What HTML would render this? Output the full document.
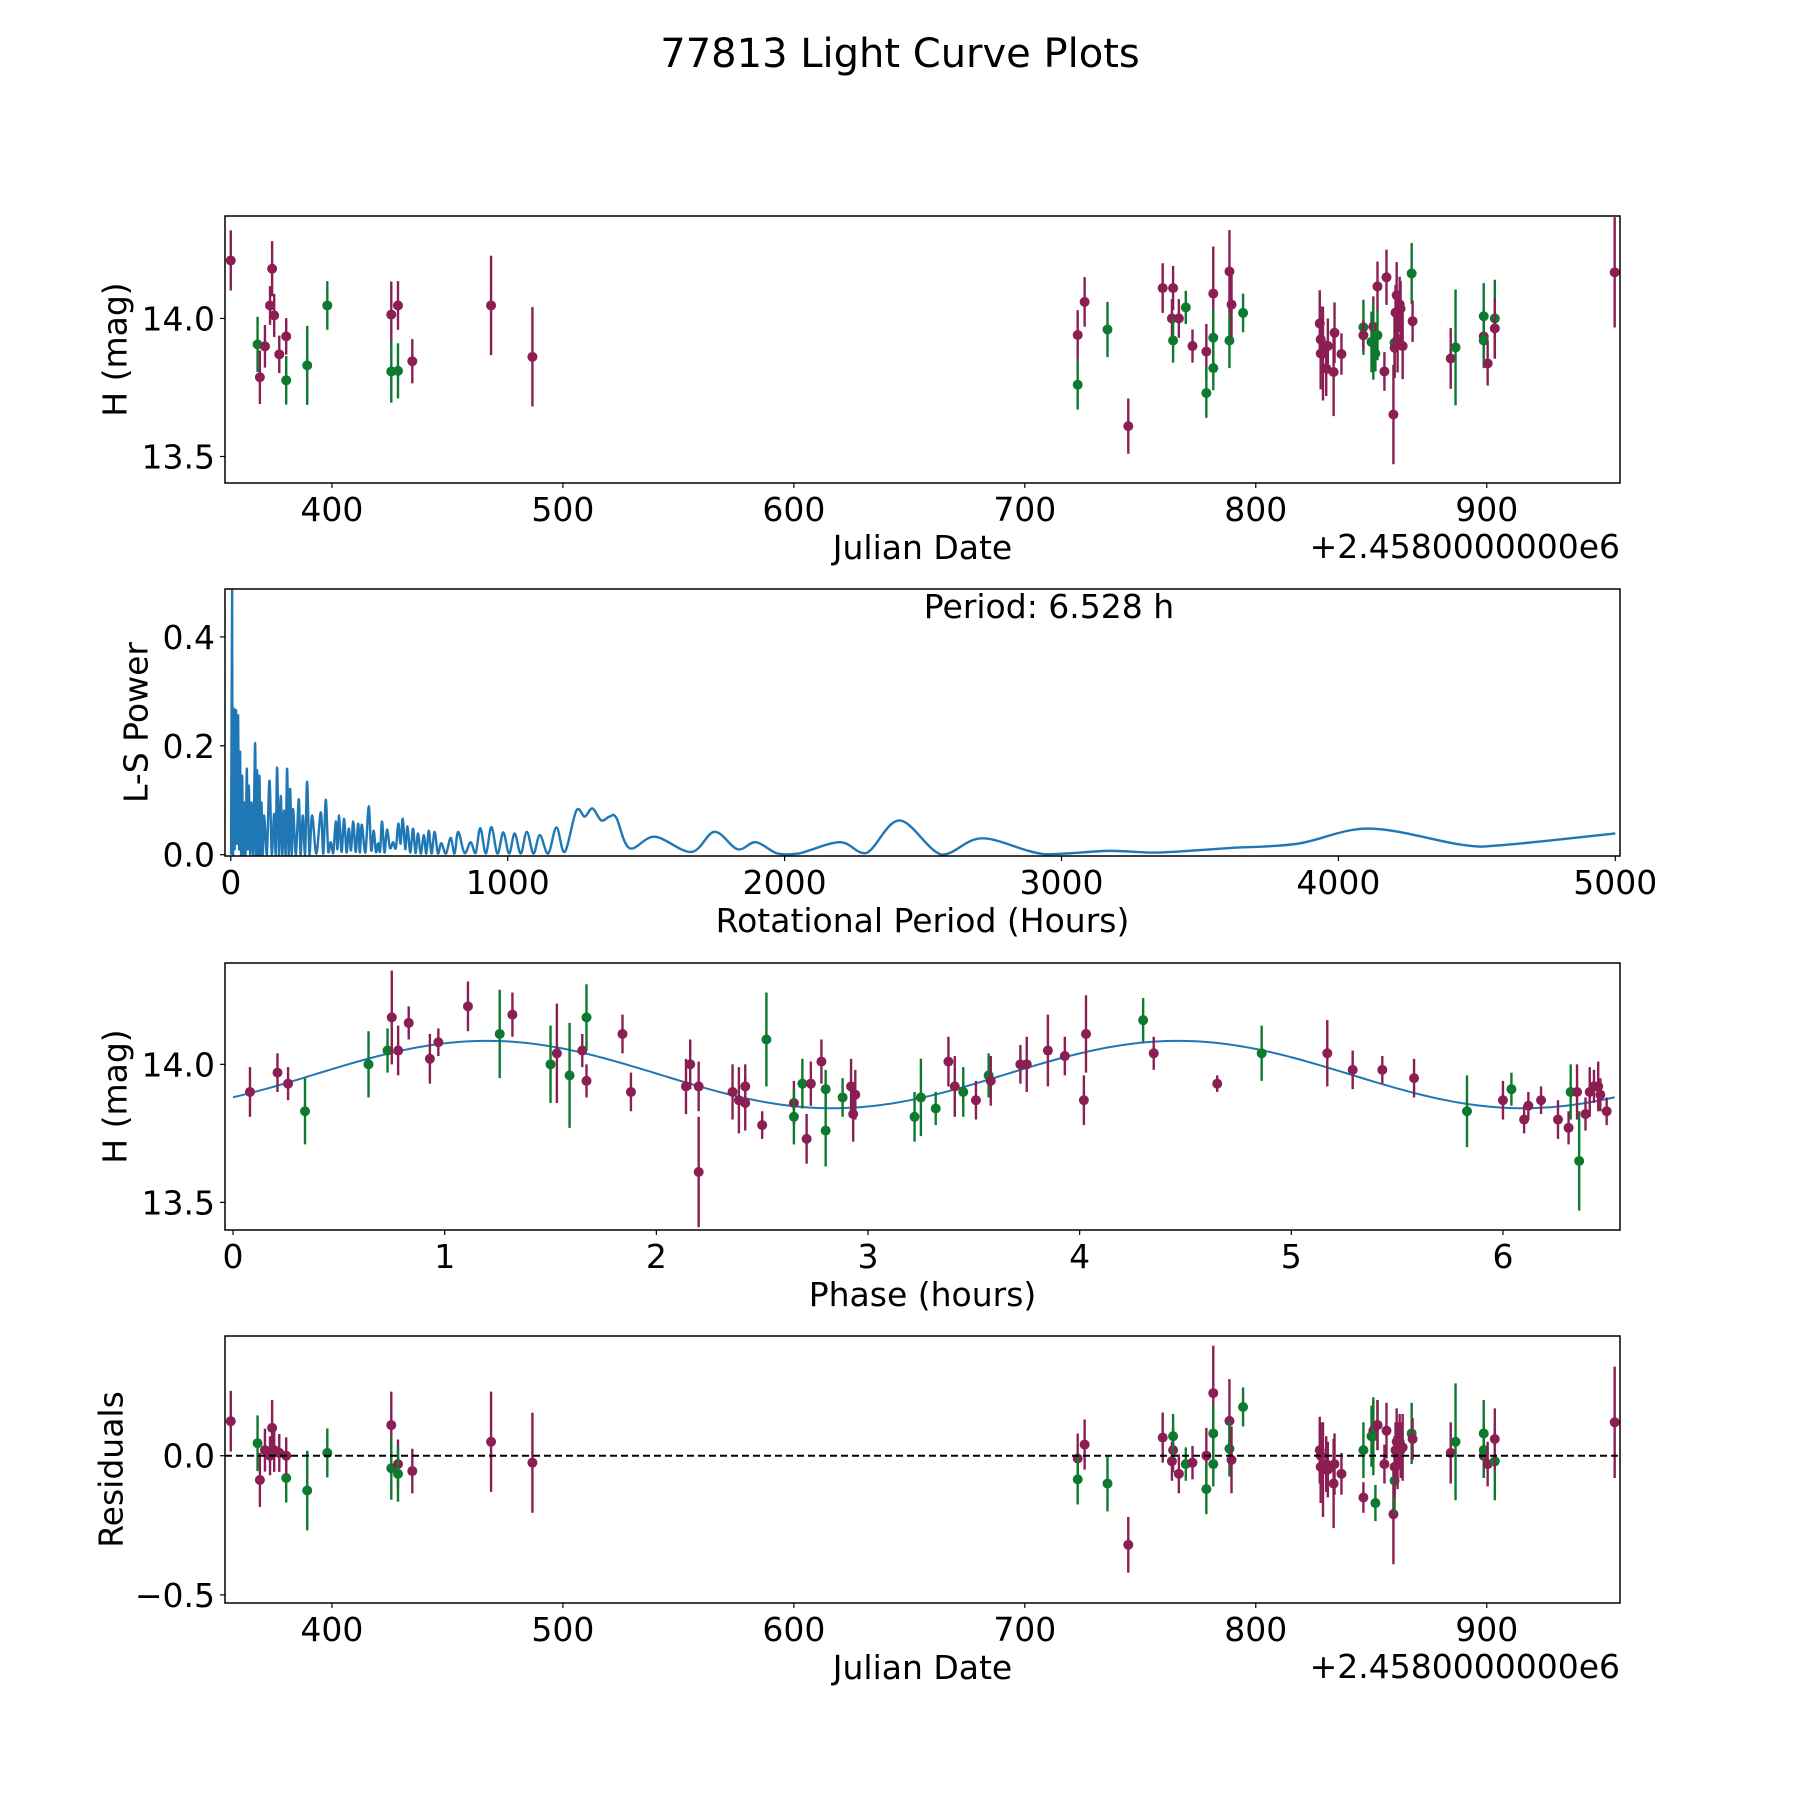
<!DOCTYPE html>
<html><head><meta charset="utf-8"><style>
html,body{margin:0;padding:0;background:#fff}
svg text{font-family:"DejaVu Sans","Liberation Sans",sans-serif;fill:#000}
</style></head><body>
<svg id="fig" width="1800" height="1800" viewBox="0 0 1800 1800" xmlns="http://www.w3.org/2000/svg">
<rect width="1800" height="1800" fill="#fff"/>
<text x="900" y="67" font-size="40" text-anchor="middle">77813 Light Curve Plots</text>
</svg>
<script>
// ---- Light curve data (JD - 2458000) ----
const jd = [356.2,367.8,368.8,371,373.2,374.1,375,377.2,380.2,380.2,389.3,398,425.7,425.7,428.6,428.6,434.8,468.9,486.8,
722.9,722.9,725.9,735.8,744.8,759.7,763.7,764.2,764.2,766.7,769.7,772.6,778.6,778.6,781.6,781.6,781.6,788.6,788.6,789.5,794.5,
827.7,828.1,828.1,829.1,830.5,831.2,833.7,834.1,837.1,846.6,846.6,850.1,850.9,850.9,852.7,851.8,852.7,855.7,856.6,859.6,860.1,860.1,860.5,861,861.4,862.3,862.7,863.6,867.5,867.9,884.4,886.5,898.7,898.7,898.7,900.4,903.5,903.5,955.4];
const mag = [14.21,13.906,13.787,13.899,14.047,14.18,14.011,13.87,13.776,13.935,13.83,14.047,14.014,13.808,14.047,13.81,13.845,14.047,13.861,
13.94,13.76,14.06,13.96,13.61,14.11,14.0,14.11,13.92,14.0,14.04,13.9,13.88,13.73,14.09,13.93,13.82,14.17,13.92,14.05,14.02,
13.982,13.924,13.873,13.873,13.819,13.9,13.806,13.948,13.871,13.968,13.939,13.915,13.97,13.918,13.939,13.873,14.116,13.808,14.149,13.652,13.912,13.894,14.021,14.084,13.924,14.051,14.035,13.9,14.163,13.99,13.855,13.895,14.008,13.935,13.92,13.837,14.0,13.964,14.167];
const magErr = [0.109,0.10,0.097,0.077,0.07,0.10,0.078,0.068,0.088,0.066,0.143,0.088,0.12,0.113,0.088,0.10,0.08,0.18,0.18,
0.09,0.09,0.09,0.1,0.1,0.09,0.07,0.08,0.08,0.07,0.06,0.06,0.1,0.09,0.17,0.1,0.08,0.15,0.1,0.12,0.07,
0.12,0.12,0.13,0.17,0.1,0.1,0.16,0.11,0.075,0.1,0.055,0.11,0.11,0.14,0.09,0.065,0.09,0.07,0.1,0.18,0.12,0.11,0.1,0.12,0.12,0.1,0.1,0.12,0.11,0.075,0.11,0.21,0.12,0.08,0.1,0.08,0.14,0.11,0.2];
const band = "mgmmmmmmgmggmgmgmmmmgmgmmmmgmgmmgmggmgmgmmmmmmmmmgmgmgggmmmmgmmmmmmmgmmggmgmgmm";
const resid = [0.124,0.045,-0.087,0.02,0.0,0.1,0.02,0.01,-0.08,0.0,-0.125,0.01,0.11,-0.045,-0.03,-0.065,-0.055,0.05,-0.025,
-0.01,-0.085,0.04,-0.1,-0.32,0.065,-0.02,0.02,0.07,-0.065,-0.03,-0.025,0.0,-0.12,0.225,0.08,-0.03,0.125,0.025,-0.015,0.175,
0.02,0.0,-0.04,-0.05,-0.03,-0.05,-0.1,-0.03,-0.065,0.02,-0.15,0.07,0.09,0.07,0.11,-0.17,0.11,-0.03,0.09,-0.21,-0.09,-0.04,0.02,0.05,0.0,0.05,0.02,0.03,0.08,0.06,0.01,0.05,0.08,0.0,0.02,-0.03,-0.02,0.06,0.12];

// ---- Phase-folded data ----
const phase = [0.08,0.21,0.26,0.34,0.64,0.73,0.75,0.78,0.83,0.93,0.97,1.11,1.26,1.32,1.5,1.53,1.59,1.65,1.67,1.67,1.84,1.88,2.14,2.16,2.2,2.2,2.36,2.39,2.42,2.42,2.5,2.52,2.65,2.65,2.69,2.71,2.73,2.78,2.8,2.8,2.88,2.92,2.93,2.94,3.22,3.25,3.32,3.38,3.41,3.45,3.51,3.57,3.58,3.72,3.75,3.85,3.93,4.02,4.03,4.3,4.35,4.65,4.86,5.17,5.29,5.43,5.58,5.83,6.0,6.04,6.1,6.12,6.18,6.26,6.31,6.32,6.35,6.36,6.39,6.41,6.43,6.45,6.46,6.49];
const phMag = [13.9,13.97,13.93,13.83,14.0,14.05,14.17,14.05,14.15,14.02,14.08,14.21,14.11,14.18,14.0,14.04,13.96,14.05,14.17,13.94,14.11,13.9,13.92,14.0,13.92,13.61,13.9,13.87,13.92,13.86,13.78,14.09,13.86,13.81,13.93,13.73,13.93,14.01,13.91,13.76,13.88,13.92,13.82,13.89,13.81,13.88,13.84,14.01,13.92,13.9,13.87,13.96,13.94,14.0,14.0,14.05,14.03,13.87,14.11,14.16,14.04,13.93,14.04,14.04,13.98,13.98,13.95,13.83,13.87,13.91,13.8,13.85,13.87,13.8,13.77,13.9,13.9,13.65,13.82,13.9,13.92,13.92,13.89,13.83];
const phErr = [0.09,0.07,0.06,0.12,0.12,0.08,0.17,0.09,0.06,0.09,0.05,0.09,0.16,0.08,0.14,0.18,0.19,0.06,0.12,0.06,0.07,0.07,0.1,0.09,0.09,0.2,0.1,0.12,0.08,0.1,0.05,0.17,0.08,0.1,0.09,0.09,0.08,0.08,0.07,0.13,0.07,0.1,0.1,0.09,0.09,0.14,0.06,0.09,0.11,0.09,0.07,0.08,0.09,0.07,0.1,0.13,0.07,0.09,0.14,0.08,0.06,0.03,0.1,0.12,0.07,0.05,0.07,0.13,0.07,0.06,0.05,0.05,0.05,0.07,0.06,0.1,0.1,0.18,0.06,0.09,0.06,0.09,0.06,0.05];
const phBand = "mmmgggmmmmmmgmgmgmgmmmmmmmmmmmmgmggmmmgggmmmgggmmgmgmmmmmmmgmmgmmmmgmgmmmmmgmgmmmmmm";
// model fit: mean, amplitude, peak phase, period
const fitMean = [13.963];
const fitAmp = [0.122];
const fitPeak = [1.2];
const fitPeriod = [6.528];

// ---- Periodogram ----
const lsPeriod = [1,4.8,6,8,12,14,19.2,22,26.4,30,33.7,37,40.9,44,48.1,53,57.7,61,65,70,74.6,81,87.8,91,95,99,103.4,107,110.7,115,120.3,130,139.6,148,156.4,162,167.2,174,180.5,186,192.5,198,203.3,209,214.2,220,225,235,245.5,252,259.9,268,275.5,284,293.6,309,324.9,334,343,352,361,370,379,385,391,400,409,418,426,434,442,451,460,466,473,486,498,507,516,524,532,539,546,555,564,575,586,596,605,613,621,630,638,648,658,667,676,686,697,706,715,725,736,748,760,777,794,808,821,844,866,884,901,921,941,963,984,1005,1025,1047,1069,1093,1116,1146,1176,1206,1248,1278,1306,1338,1368,1392,1440,1531,1663,1747,1830,1896,1975,2050,2199,2295,2415,2568,2714,2938,3170,3350,3600,3850,4112,4450,4600,5000];
const lsPower = [0.0,0.49,0.02,0.0,0.268,0.01,0.265,0.02,0.256,0.01,0.189,0.0,0.145,0.0,0.096,0.0,0.158,0.01,0.127,0.0,0.096,0.0,0.205,0.0,0.155,0.0,0.145,0.0,0.096,0.0,0.072,0.0,0.136,0.0,0.075,0.0,0.16,0.0,0.108,0.0,0.081,0.0,0.158,0.0,0.121,0.0,0.084,0.0,0.102,0.0,0.072,0.0,0.134,0.0,0.072,0.002,0.078,0.002,0.101,0.005,0.023,0.003,0.061,0.01,0.072,0.005,0.066,0.004,0.048,0.008,0.061,0.005,0.057,0.004,0.055,0.004,0.089,0.008,0.044,0.005,0.021,0.006,0.061,0.004,0.046,0.012,0.023,0.012,0.057,0.02,0.066,0.01,0.052,0.004,0.048,0.003,0.039,0.002,0.036,0.002,0.044,0.002,0.042,0.002,0.021,0.002,0.031,0.002,0.042,0.003,0.023,0.003,0.049,0.002,0.051,0.002,0.041,0.002,0.039,0.002,0.042,0.002,0.036,0.002,0.05,0.005,0.081,0.07,0.085,0.063,0.07,0.068,0.012,0.033,0.005,0.042,0.01,0.023,0.002,0.002,0.023,0.003,0.063,0.0,0.03,0.001,0.007,0.004,0.012,0.02,0.048,0.018,0.018,0.039];

const NS = "http://www.w3.org/2000/svg";
const svg = document.getElementById('fig');
const L = 225, R = 1620;
const MAG = '#8b1e53', GRN = '#0d7a2f', BLUE = '#1f77b4';
function mk(tag, attrs, parent) { const e = document.createElementNS(NS, tag); for (const k in attrs) e.setAttribute(k, attrs[k]); (parent||svg).appendChild(e); return e; }
function scale(d0, d1, r0, r1) { return v => r0 + (v - d0) / (d1 - d0) * (r1 - r0); }

function axes(name, top, bot, xd, yd, xticks, xlabs, yticks, ylabs, xlabel, ylabel, ylabX, offset) {
  const g = mk('g', {});
  
  
  const sx = scale(xd[0], xd[1], L, R), sy = scale(yd[0], yd[1], bot, top);
  const plot = mk('g', {}, g);
  
  
  xticks.forEach((t, i) => {
    const x = sx(t);
    const tk = mk('line', {x1:x, x2:x, y1:bot, y2:bot+5, stroke:'#000', 'stroke-width':1.2}, g);
    
    
    const tx = mk('text', {x:x, y:bot+38, 'font-size':33, 'text-anchor':'middle'}, g);
    
    
    tx.textContent = xlabs[i];
  });
  yticks.forEach((t, i) => {
    const y = sy(t);
    const tk = mk('line', {x1:L-5, x2:L, y1:y, y2:y, stroke:'#000', 'stroke-width':1.2}, g);
    
    
    const tx = mk('text', {x:L-10, y:y+12, 'font-size':33, 'text-anchor':'end'}, g);
    
    
    tx.textContent = ylabs[i];
  });
  const xl = mk('text', {x:(L+R)/2, y:bot+76, 'font-size':33, 'text-anchor':'middle'}, g);
  
  
  xl.textContent = xlabel;
  const cy = (top+bot)/2;
  const yl = mk('text', {x:ylabX, y:cy, 'font-size':33, 'text-anchor':'middle', transform:`rotate(-90 ${ylabX} ${cy})`, dy:'0.35em'}, g);
  
  
  yl.textContent = ylabel;
  if (offset) {
    const ot = mk('text', {x:R, y:bot+75, 'font-size':33, 'text-anchor':'end'}, g);
    
    
    ot.textContent = offset;
  }
  const clipId = 'c' + name;
  const cp = mk('clipPath', {id: clipId}, g);
  mk('rect', {x:L, y:top, width:R-L, height:bot-top}, cp);
  plot.setAttribute('clip-path', `url(#${clipId})`);
  return {g, plot, sx, sy, top, bot};
}
function frame(ax) {
  const f = mk('rect', {x:L, y:ax.top, width:R-L, height:ax.bot-ax.top, fill:'none', stroke:'#000', 'stroke-width':1.5}, ax.g);
  
  
}
function errpts(ax, xs, ys, es, bands, nm) {
  xs.forEach((xv, i) => {
    const c = bands[i] === 'g' ? GRN : MAG;
    const x = ax.sx(xv), y = ax.sy(ys[i]);
    const eb = mk('line', {x1:x, x2:x, y1:ax.sy(ys[i]-es[i]), y2:ax.sy(ys[i]+es[i]), stroke:c, 'stroke-width':2.4}, ax.plot);
    
    
    const p = mk('circle', {cx:x, cy:y, r:5, fill:c}, ax.plot);
    
    
  });
}

// Panel 1
const jdTicks = [400,500,600,700,800,900];
const ax1 = axes('light-curve-panel', 216, 483, [353.7,957.7], [13.404,14.371], jdTicks, jdTicks.map(String), [13.5,14.0], ['13.5','14.0'], 'Julian Date', 'H (mag)', 115, '+2.4580000000e6');
errpts(ax1, jd, mag, magErr, band, 'observation');
frame(ax1);

// Panel 2
const ax2 = axes('periodogram-panel', 589, 856, [-21,5017], [-0.0024,0.488], [0,1000,2000,3000,4000,5000], ['0','1000','2000','3000','4000','5000'], [0,0.2,0.4], ['0.0','0.2','0.4'], 'Rotational Period (Hours)', 'L-S Power', 136, null);
(function(){
  const pts = lsPeriod.map((p,i)=>[ax2.sx(p), ax2.sy(lsPower[i])]);
  let d = `M${pts[0][0]},${pts[0][1]}`;
  for (let i=0;i<pts.length-1;i++){
    const p0=pts[Math.max(0,i-1)], p1=pts[i], p2=pts[i+1], p3=pts[Math.min(pts.length-1,i+2)];
    const c1=[p1[0]+(p2[0]-p0[0])/6, p1[1]+(p2[1]-p0[1])/6], c2=[p2[0]-(p3[0]-p1[0])/6, p2[1]-(p3[1]-p1[1])/6];
    d += ` C${c1[0]},${Math.min(c1[1],ax2.sy(0))} ${c2[0]},${Math.min(c2[1],ax2.sy(0))} ${p2[0]},${p2[1]}`;
  }
  const pl = mk('path', {d, fill:'none', stroke:BLUE, 'stroke-width':2.4}, ax2.plot);
  
  
})();
frame(ax2);
const pt = mk('text', {x:1049, y:618, 'font-size':33, 'text-anchor':'middle'}, ax2.g);


pt.textContent = 'Period: ' + fitPeriod[0].toFixed(3) + ' h';

// Panel 3
const ax3 = axes('phase-panel', 963, 1230, [-0.038,6.553], [13.40,14.367], [0,1,2,3,4,5,6], ['0','1','2','3','4','5','6'], [13.5,14.0], ['13.5','14.0'], 'Phase (hours)', 'H (mag)', 115, null);
(function(){
  let d = '';
  for (let i=0;i<=300;i++){
    const ph = fitPeriod[0]*i/300;
    const v = fitMean[0] + fitAmp[0]*Math.cos(4*Math.PI*(ph-fitPeak[0])/fitPeriod[0]);
    d += (i?' L':'M') + ax3.sx(ph) + ',' + ax3.sy(v);
  }
  const fl = mk('path', {d, fill:'none', stroke:BLUE, 'stroke-width':2}, ax3.plot);
  
  
})();
errpts(ax3, phase, phMag, phErr, phBand, 'phased');
frame(ax3);

// Panel 4
const ax4 = axes('residuals-panel', 1336, 1603, [353.7,957.7], [-0.529,0.43], jdTicks, jdTicks.map(String), [-0.5,0.0], ['\u22120.5','0.0'], 'Julian Date', 'Residuals', 111, '+2.4580000000e6');
errpts(ax4, jd, resid, magErr, band, 'residual');
const zl = mk('line', {x1:L, x2:R, y1:ax4.sy(0), y2:ax4.sy(0), stroke:'#000', 'stroke-width':2, 'stroke-dasharray':'7,4'}, ax4.plot);


frame(ax4);
</script>
</body></html>
